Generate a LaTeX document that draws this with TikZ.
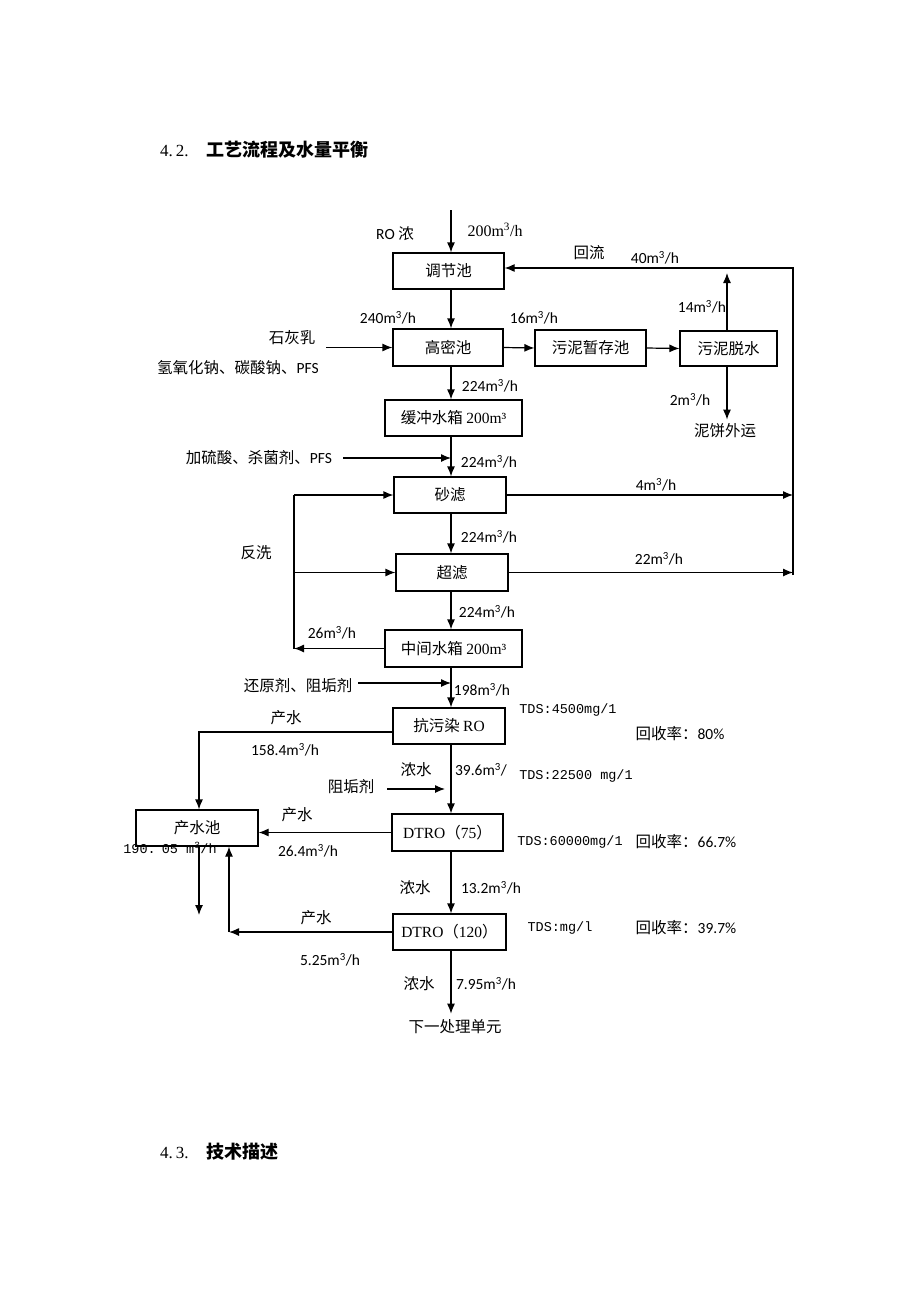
\documentclass[tikz,border=0pt]{standalone}
\usepackage{fontspec}
\setmainfont{Liberation Serif}
\newfontfamily\zhfont{Noto Sans CJK SC}
\newfontfamily\numfont{Carlito}
\newfontfamily\monofont{Liberation Mono}
\usetikzlibrary{arrows.meta}
\newcommand\flow[1]{#1m\textsuperscript{3}/h}

\begin{document}
\begin{tikzpicture}[x=1pt,y=-1pt,
  box/.style={draw,line width=1.2pt,inner sep=0pt,font=\zhfont\fontsize{15.5}{18}\selectfont},
  arr/.style={-{Latex[length=10pt,width=8pt]},line width=1.2pt},
  zh/.style={inner sep=0pt,font=\zhfont\fontsize{15.5}{18}\selectfont},
  num/.style={inner sep=0pt,font=\numfont\fontsize{15.5}{18}\selectfont},
  tds/.style={inner sep=0pt,font=\monofont\fontsize{13.5}{16}\selectfont},
  rom/.style={inner sep=0pt,font=\fontsize{16}{18}\selectfont}]

\fill[white] (0,0) rectangle (920,1302);

\node[anchor=west,inner sep=0pt,font=\fontsize{17}{20}\selectfont] (h42) at (160,150)
  {4.\kern3pt2.\hspace{18pt}{\zhfont\bfseries\fontsize{18}{20}\selectfont 工艺流程及水量平衡}};
\node[anchor=west,inner sep=0pt,font=\fontsize{17}{20}\selectfont] (h43) at (160,1152)
  {4.\kern3pt3.\hspace{18pt}{\zhfont\bfseries\fontsize{18}{20}\selectfont 技术描述}};

\node[box,minimum width=111pt,minimum height=36pt] (tiaojie) at (448.5,271) {调节池};
\node[box,minimum width=110pt,minimum height=37pt] (gaomi) at (448,347.5) {高密池};
\node[box,minimum width=111pt,minimum height=36pt] (wuni) at (590.5,348) {污泥暂存池};
\node[box,minimum width=97pt,minimum height=35pt] (tuoshui) at (728.5,348.5) {污泥脱水};
\node[box,minimum width=137pt,minimum height=36pt] (huanchong) at (453.5,418) {缓冲水箱 {\rmfamily 200m³}};
\node[box,minimum width=112pt,minimum height=36pt] (shalv) at (450,495) {砂滤};
\node[box,minimum width=112pt,minimum height=37pt] (chaolv) at (452,572.5) {超滤};
\node[box,minimum width=137pt,minimum height=37pt] (zhongjian) at (453.5,648.5) {中间水箱 {\rmfamily 200m³}};
\node[box,minimum width=112pt,minimum height=36pt] (kangwu) at (449,726) {抗污染 {\rmfamily RO}};
\node[box,minimum width=111pt,minimum height=37pt] (dtroA) at (447.5,832.5) {{\rmfamily DTRO}（{\rmfamily 75}）};
\node[box,minimum width=113pt,minimum height=36pt] (dtroB) at (449.5,932) {{\rmfamily DTRO}（{\rmfamily 120}）};
\node[box,minimum width=122pt,minimum height=36pt] (chanshui) at (197,828) {产水池};
\node[zh] (nibing) at (725,431) {泥饼外运};
\node[zh] (xiayi) at (455,1027) {下一处理单元};

\coordinate (mx) at (451,0);
\coordinate (inflow) at (451,210);
\coordinate (rt) at (793,268);
\coordinate (rb) at (793,575);
\coordinate (tsup) at (727,273);
\coordinate (bwt) at (294,495);
\coordinate (bwb) at (294,648.5);
\coordinate (lime) at (326,347.5);
\coordinate (acid) at (343,458);
\coordinate (redu) at (358,683);
\coordinate (anti) at (387,789);
\coordinate (antiend) at (445,789);
\coordinate (prodA) at (199,732);
\coordinate (outA) at (199,915);
\coordinate (retB) at (229,932);

\draw[arr] (inflow) -- (mx |- tiaojie.north);
\foreach \a/\b in {tiaojie/gaomi,gaomi/huanchong,huanchong/shalv,shalv/chaolv,
  chaolv/zhongjian,zhongjian/kangwu,kangwu/dtroA,dtroA/dtroB}
  \draw[arr] (mx |- \a.south) -- (mx |- \b.north);
\draw[arr] (mx |- dtroB.south) -- ([yshift=6pt]mx |- xiayi.north);

\draw[arr] (rb) -- (rt) -- (tiaojie.east |- rt);
\draw[arr] (gaomi.east) -- (wuni.west);
\draw[arr] (wuni.east) -- (tuoshui.west);
\draw[arr] (tsup |- tuoshui.north) -- (tsup);
\draw[arr] (tsup |- tuoshui.south) -- ([yshift=4pt]tsup |- nibing.north);
\draw[arr] (shalv.east) -- (rb |- shalv.east);
\draw[arr] (chaolv.east) -- (rb |- chaolv.east);

\draw[arr] (zhongjian.west) -- (bwb);
\draw[line width=1.2pt] (bwb) -- (bwt);
\draw[arr] (bwt) -- (shalv.west);
\draw[arr] (bwt |- chaolv.west) -- (chaolv.west);
\draw[arr] (lime) -- (gaomi.west);
\draw[arr] (acid) -- (mx |- acid);
\draw[arr] (redu) -- (mx |- redu);
\draw[arr] (anti) -- (antiend);

\draw[arr] (kangwu.west |- prodA) -- (prodA) -- (prodA |- chanshui.north);
\draw[arr] (dtroA.west) -- (chanshui.east |- dtroA.west);
\draw[arr] (prodA |- chanshui.south) -- (outA);
\draw[arr] (dtroB.west) -- (retB);
\draw[arr] (retB) -- (retB |- chanshui.south);

\node[num] (lro) at (395,234) {RO {\zhfont 浓}};
\node[rom] (l200) at (495,230) {\flow{200}};
\node[zh] (lhl) at (589,253) {回流};
\node[num] (l40) at (655,258) {\flow{40}};
\node[num] (l240) at (388,318) {\flow{240}};
\node[num] (l16) at (534,318) {\flow{16}};
\node[num] (l14) at (702,307) {\flow{14}};
\node[zh] (lsh) at (292,338) {石灰乳};
\node[zh] (lqy) at (238,368) {氢氧化钠、碳酸钠、{\numfont PFS}};
\node[num] (l224a) at (490,386) {\flow{224}};
\node[num] (l2) at (690,400) {\flow{2}};
\node[zh] (lls) at (259,458) {加硫酸、杀菌剂、{\numfont PFS}};
\node[num] (l224b) at (489,462) {\flow{224}};
\node[num] (l4) at (656,485) {\flow{4}};
\node[zh] (lfx) at (256,553) {反洗};
\node[num] (l224c) at (489,537) {\flow{224}};
\node[num] (l22) at (659,559) {\flow{22}};
\node[num] (l224d) at (487,612) {\flow{224}};
\node[num] (l26) at (332,633) {\flow{26}};
\node[zh] (lhy) at (298,686) {还原剂、阻垢剂};
\node[num] (l198) at (482,690) {\flow{198}};
\node[zh] (lcs1) at (286,718) {产水};
\node[tds] (ltds1) at (568,710) {TDS:4500mg/1};
\node[zh] (lhs1) at (680,734) {回收率：{\numfont 80\%}};
\node[num] (l158) at (285,750) {\flow{158.4}};
\node[zh] (lns1) at (416,770) {浓水};
\node[num] (l396) at (481,770) {39.6m\textsuperscript{3}/};
\node[tds] (ltds2) at (576,776) {TDS:22500 mg/1};
\node[zh] (lzg) at (351,787) {阻垢剂};
\node[zh] (lcs2) at (297,815) {产水};
\node[tds] (ltds3) at (570,842) {TDS:60000mg/1};
\node[zh] (lhs2) at (686,842) {回收率：{\numfont 66.7\%}};
\node[tds] (l190) at (170,848) {190.\kern-2pt\ 05 m\textsuperscript{3}/h};
\node[num] (l264) at (308,851) {\flow{26.4}};
\node[zh] (lns2) at (415,888) {浓水};
\node[num] (l132) at (491,888) {\flow{13.2}};
\node[zh] (lcs3) at (316,918) {产水};
\node[tds] (ltds4) at (560,928) {TDS:mg/l};
\node[zh] (lhs3) at (686,928) {回收率：{\numfont 39.7\%}};
\node[num] (l525) at (330,960) {\flow{5.25}};
\node[zh] (lns3) at (419,984) {浓水};
\node[num] (l795) at (486,984) {\flow{7.95}};
\end{tikzpicture}
\end{document}
